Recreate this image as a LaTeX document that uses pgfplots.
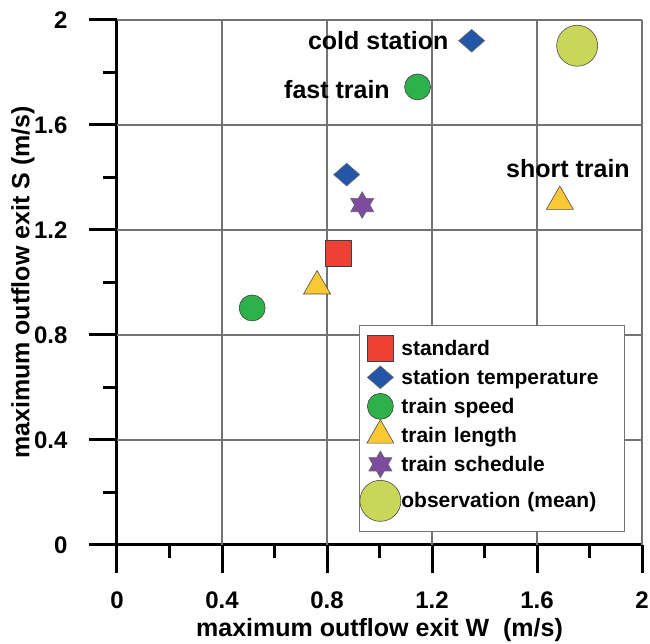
\documentclass[border=0pt]{standalone}
\usepackage{fontspec}
\setmainfont{Liberation Sans}
\usepackage{pgfplots}
\pgfplotsset{compat=1.18}

\definecolor{cred}{HTML}{EE4035}
\definecolor{cblue}{HTML}{2456A8}
\definecolor{cgreen}{HTML}{2EB04A}
\definecolor{cyellow}{HTML}{F9C832}
\definecolor{cpurple}{HTML}{7D4C9E}
\definecolor{cobs}{HTML}{C9D65A}

\pgfdeclareplotmark{hexstar}{%
 \pgfpathmoveto{\pgfpointpolar{90}{\pgfplotmarksize}}%
 \pgfpathlineto{\pgfpointpolar{120}{0.577\pgfplotmarksize}}%
 \pgfpathlineto{\pgfpointpolar{150}{\pgfplotmarksize}}%
 \pgfpathlineto{\pgfpointpolar{180}{0.577\pgfplotmarksize}}%
 \pgfpathlineto{\pgfpointpolar{210}{\pgfplotmarksize}}%
 \pgfpathlineto{\pgfpointpolar{240}{0.577\pgfplotmarksize}}%
 \pgfpathlineto{\pgfpointpolar{270}{\pgfplotmarksize}}%
 \pgfpathlineto{\pgfpointpolar{300}{0.577\pgfplotmarksize}}%
 \pgfpathlineto{\pgfpointpolar{330}{\pgfplotmarksize}}%
 \pgfpathlineto{\pgfpointpolar{0}{0.577\pgfplotmarksize}}%
 \pgfpathlineto{\pgfpointpolar{30}{\pgfplotmarksize}}%
 \pgfpathlineto{\pgfpointpolar{60}{0.577\pgfplotmarksize}}%
 \pgfpathclose
 \pgfusepathqfillstroke}

\pgfdeclareplotmark{wdiamond}{%
 \pgfpathmoveto{\pgfqpoint{\pgfplotmarksize}{0pt}}%
 \pgfpathlineto{\pgfqpoint{0pt}{0.87\pgfplotmarksize}}%
 \pgfpathlineto{\pgfqpoint{-\pgfplotmarksize}{0pt}}%
 \pgfpathlineto{\pgfqpoint{0pt}{-0.87\pgfplotmarksize}}%
 \pgfpathclose
 \pgfusepathqfillstroke}

\pgfplotsset{
  stdlegend/.style={legend image code/.code={\path[use as bounding box, draw=none, fill=none] (-14pt,-12.5pt) rectangle (14pt,12.5pt);
    \draw[##1] plot coordinates {(0pt,0pt)};}},
  obslegend/.style={legend image code/.code={\path[use as bounding box, draw=none, fill=none] (-14pt,-21pt) rectangle (14pt,20pt);
    \draw[##1] plot coordinates {(0pt,0pt)};}},
}

\begin{document}
\begin{tikzpicture}
\begin{axis}[
  at={(0,0)}, anchor=south west,
  scale only axis, width=525pt, height=525pt,
  xmin=0, xmax=2, ymin=0, ymax=2,
  xtick={0,0.4,0.8,1.2,1.6,2},
  ytick={0,0.4,0.8,1.2,1.6,2},
  minor xtick={0.2,0.6,1.0,1.4,1.8},
  minor ytick={0.2,0.6,1.0,1.4,1.8},
  extra x ticks={0.4,0.8,1.2,1.6,2},
  extra y ticks={0.4,0.8,1.2,1.6,2},
  extra x tick labels={}, extra y tick labels={},
  extra tick style={grid=major, major tick length=0pt, tick style={draw=none}},
  major grid style={line width=1.1pt, color=black!55},
  axis x line*=bottom, axis y line*=left,
  axis line style={line width=3pt, black, -},
  tick align=outside,
  major tick length=28pt, minor tick length=13.5pt,
  every tick/.style={line width=3pt, black},
  /pgf/number format/assume math mode=true,
  ticklabel style={font=\bfseries\fontsize{24}{28}\selectfont},
  xticklabel style={yshift=-15pt},
  yticklabel style={xshift=-18pt},
  xlabel={maximum outflow exit W\ \ (m/s)},
  ylabel={maximum outflow exit S (m/s)},
  label style={font=\bfseries\fontsize{25}{30}\selectfont},
  xlabel style={at={(axis description cs:0.5,-0.162)}, anchor=center},
  ylabel style={at={(axis description cs:-0.179,0.5)}, anchor=center},
  legend style={at={(axis description cs:0.9675,0.024)}, anchor=south east,
    draw=black!55, line width=1.1pt, fill=white,
    font=\bfseries\fontsize{21}{25}\selectfont,
    inner xsep=7pt, inner ysep=10pt, row sep=4pt, column sep=5pt,
    nodes={inner sep=2pt},
    /tikz/every even column/.append style={text width=214pt, align=left}},
  legend cell align=left,
  stdlegend,
  mark options={line width=0.6pt},
  clip=false,
]
\addplot[only marks, mark=square*, mark size=13pt, draw=black!75, fill=cred] coordinates {(0.844,1.111)};
\addlegendentry{standard}
\addplot[only marks, mark=wdiamond, mark size=13pt, draw=black!60, fill=cblue] coordinates {(0.875,1.411) (1.351,1.921)};
\addlegendentry{station temperature}
\addplot[only marks, mark=*, mark size=13pt, draw=black!75, fill=cgreen] coordinates {(0.515,0.903) (1.145,1.745)};
\addlegendentry{train speed}
\addplot[only marks, mark=triangle*, mark size=15.6pt, draw=black!70, fill=cyellow] coordinates {(0.762,0.986) (1.687,1.308)};
\addlegendentry{train length}
\addplot[only marks, mark=hexstar, mark size=13.3pt, draw=black!60, fill=cpurple] coordinates {(0.934,1.295)};
\addlegendentry{train schedule}
\addplot[only marks, mark=*, mark size=20.5pt, draw=black!70, fill=cobs, obslegend] coordinates {(1.753,1.902)};
\addlegendentry{observation (mean)}

\node[anchor=east, font=\bfseries\fontsize{25}{30}\selectfont, inner sep=0pt] at (axis cs:1.263,1.92) {cold station};
\node[anchor=east, font=\bfseries\fontsize{25}{30}\selectfont, inner sep=0pt] at (axis cs:1.040,1.736) {fast train};
\node[anchor=center, font=\bfseries\fontsize{25}{30}\selectfont, inner sep=0pt] at (axis cs:1.718,1.435) {short train};
\end{axis}
\pgfresetboundingbox
\path (-117pt,-99pt) rectangle (533pt,545pt);
\end{tikzpicture}
\end{document}
